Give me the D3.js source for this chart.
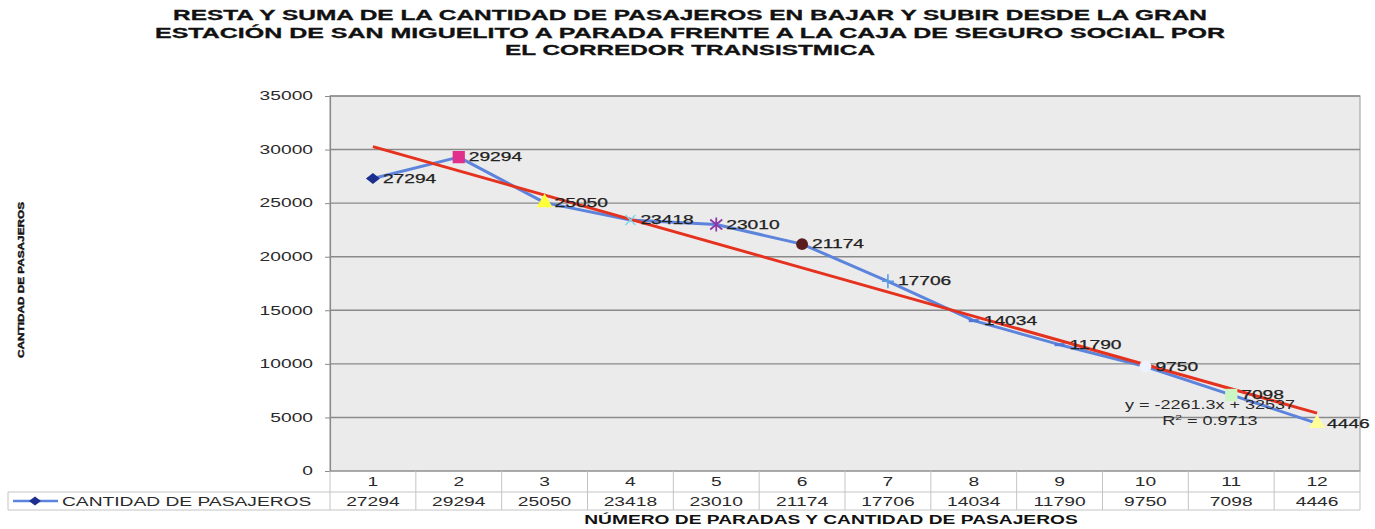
<!DOCTYPE html>
<html>
<head>
<meta charset="utf-8">
<script src="https://cdn.jsdelivr.net/npm/d3@7"></script>
<style>
  html, body { margin: 0; padding: 0; background: #ffffff; }
  svg { display: block; font-family: Arial, "Liberation Sans", sans-serif; }
</style>
</head>
<body>
<svg id="chart" width="1375" height="529"></svg>
<script>
// Parada (stop number) and passengers on board after each stop
const stops = ["1", "2", "3", "4", "5", "6", "7", "8", "9", "10", "11", "12"];
const passengers = [27294, 29294, 25050, 23418, 23010, 21174, 17706, 14034, 11790, 9750, 7098, 4446];
const yTicks = [0, 5000, 10000, 15000, 20000, 25000, 30000, 35000];

// Per-point marker style (shape, fill) as the spreadsheet varies it by point
const markerShapes = ["diamond", "square", "triangle", "x", "star", "circle", "plus", "dash", "dash", "circle", "square", "triangle"];
const markerColors = ["#1c2f8f", "#e0308c", "#ffff3a", "#7fd6ee", "#8a3aa8", "#5a1c1c", "#5a9ee0", "#4f78d8", "#4f78d8", "#eef2ff", "#ccf5c4", "#ffff99"];

const titleLines = [
  "RESTA Y SUMA DE LA CANTIDAD DE PASAJEROS EN BAJAR Y SUBIR DESDE LA GRAN",
  "ESTACIÓN DE SAN MIGUELITO A PARADA FRENTE A LA CAJA DE SEGURO SOCIAL POR",
  "EL CORREDOR TRANSISTMICA"
];
const seriesName = "CANTIDAD DE PASAJEROS";
const xTitle = "NÚMERO DE PARADAS Y CANTIDAD DE PASAJEROS";
const yTitle = "CANTIDAD DE PASAJEROS";

const svg = d3.select("#chart");
const plot = { left: 330, right: 1360, top: 96, bottom: 471 };
const rowH = [21, 18];
const tableLeft = 8;
const STRETCH = 1.6;

// widen glyphs horizontally, the way the exported chart renders its text
function stretch(sel, k) {
  sel.each(function () {
    const w = this.getComputedTextLength();
    d3.select(this).attr("textLength", w * k).attr("lengthAdjust", "spacingAndGlyphs");
  });
}

const x = d3.scaleBand().domain(stops).range([plot.left, plot.right]).padding(0);
const y = d3.scaleLinear().domain([0, 35000]).range([plot.bottom, plot.top]);
const cx = d => x(d) + x.bandwidth() / 2;

// Title
const title = svg.append("g").attr("font-weight", "bold").attr("font-size", 14.5).attr("fill", "#111");
const titleWidths = [1034, 1070, 370];
titleLines.forEach((t, i) => {
  title.append("text").attr("x", 690).attr("y", 20 + i * 17.5)
    .attr("text-anchor", "middle").text(t)
    .attr("stroke", "#111").attr("stroke-width", 0.3)
    .attr("textLength", titleWidths[i]).attr("lengthAdjust", "spacingAndGlyphs");
});

// Plot area
svg.append("rect")
  .attr("x", plot.left).attr("y", plot.top)
  .attr("width", plot.right - plot.left).attr("height", plot.bottom - plot.top)
  .attr("fill", "#ecebeb").attr("stroke", "#a8a8a8").attr("stroke-width", 1.2);

// Gridlines
svg.append("g").selectAll("line").data(yTicks.filter(v => v > 0)).join("line")
  .attr("x1", plot.left).attr("x2", plot.right)
  .attr("y1", d => y(d)).attr("y2", d => y(d))
  .attr("stroke", "#8a8a8a").attr("stroke-width", 1.4);

// Y axis
const yAxis = svg.append("g").attr("transform", `translate(${plot.left},0)`)
  .call(d3.axisLeft(y).tickValues(yTicks).tickSize(5).tickPadding(12).tickFormat(d3.format("d")));
yAxis.select(".domain").attr("stroke", "#8a8a8a").attr("stroke-width", 1.2);
yAxis.selectAll(".tick line").attr("stroke", "#8a8a8a");
yAxis.selectAll("text").attr("font-size", 12).attr("fill", "#2a2a2a")
  .attr("font-family", "Arial, 'Liberation Sans', sans-serif").call(stretch, STRETCH);

// Y axis title (compressed vertical text)
svg.append("text")
  .attr("transform", "translate(24,280) rotate(-90)")
  .attr("text-anchor", "middle").attr("font-size", 9).attr("font-weight", "bold").attr("fill", "#111")
  .attr("stroke", "#111").attr("stroke-width", 0.4)
  .attr("textLength", 156).attr("lengthAdjust", "spacingAndGlyphs")
  .text(yTitle);

// Linear trend by least squares
const xs = stops.map((s, i) => i + 1);
const n = xs.length;
const mx = d3.mean(xs), my = d3.mean(passengers);
const sxy = d3.sum(xs, (v, i) => (v - mx) * (passengers[i] - my));
const sxx = d3.sum(xs, v => (v - mx) * (v - mx));
const slope = sxy / sxx;
const intercept = my - slope * mx;
const ssTot = d3.sum(passengers, v => (v - my) ** 2);
const ssRes = d3.sum(passengers, (v, i) => (v - (intercept + slope * xs[i])) ** 2);
const r2 = 1 - ssRes / ssTot;

// Data line
const line = d3.line().x((d, i) => cx(stops[i])).y(d => y(d));
svg.append("path").datum(passengers)
  .attr("d", line).attr("fill", "none")
  .attr("stroke", "#5d84dc").attr("stroke-width", 3).attr("stroke-linejoin", "round");

// Trend line
const trend = [xs[0], xs[n - 1]].map(v => intercept + slope * v);
svg.append("line")
  .attr("x1", cx(stops[0])).attr("y1", y(trend[0]))
  .attr("x2", cx(stops[n - 1])).attr("y2", y(trend[1]))
  .attr("stroke", "#e5321f").attr("stroke-width", 3);

// Markers
const symbolFor = {
  square: d3.symbol().type(d3.symbolSquare).size(150),
  triangle: d3.symbol().type(d3.symbolTriangle).size(110),
  circle: d3.symbol().type(d3.symbolCircle).size(110)
};
const diamondPath = (w, h) => `M${-w},0L0,${-h}L${w},0L0,${h}Z`;
const markers = svg.append("g");
passengers.forEach((v, i) => {
  const px = cx(stops[i]), py = y(v);
  const shape = markerShapes[i], col = markerColors[i];
  const g = markers.append("g").attr("transform", `translate(${px},${py})`);
  if (shape === "diamond") {
    g.append("path").attr("d", diamondPath(7, 5.5)).attr("fill", col);
  } else if (symbolFor[shape]) {
    g.append("path").attr("d", symbolFor[shape]()).attr("fill", col);
  } else if (shape === "x") {
    g.append("path").attr("d", "M-5,-5L5,5M-5,5L5,-5").attr("stroke", col).attr("stroke-width", 1.5);
  } else if (shape === "star") {
    g.append("path").attr("d", "M-6,-5L6,5M-6,5L6,-5M0,-7L0,7").attr("stroke", col).attr("stroke-width", 1.8);
  } else if (shape === "plus") {
    g.append("path").attr("d", "M-6,0L6,0M0,-7L0,7").attr("stroke", col).attr("stroke-width", 1.6);
  } else if (shape === "dash") {
    g.append("path").attr("d", "M-5,0L5,0").attr("stroke", col).attr("stroke-width", 3);
  }
});

// Data labels
svg.append("g").selectAll("text").data(passengers).join("text")
  .attr("x", (d, i) => cx(stops[i]) + 10).attr("y", d => y(d))
  .attr("dy", "0.35em").attr("font-size", 12).attr("fill", "#222")
  .attr("stroke", "#222").attr("stroke-width", 0.25)
  .text(d => d)
  .call(stretch, STRETCH);

// Trend equation (plain hyphen for the minus sign)
const fmt1 = d3.format(".1f");
const eq = svg.append("g").attr("font-size", 12).attr("fill", "#2a2a2a").attr("text-anchor", "middle");
eq.append("text").attr("x", 1210).attr("y", 409)
  .text(`y = ${slope < 0 ? "-" : ""}${fmt1(Math.abs(slope))}x + ${d3.format(".0f")(intercept)}`).call(stretch, 1.5);
const r2Text = eq.append("text").attr("x", 1210).attr("y", 425);
r2Text.append("tspan").text("R");
r2Text.append("tspan").attr("font-size", 8).attr("dy", -5).text("2");
r2Text.append("tspan").attr("dy", 5).text(` = ${d3.format(".4f")(r2)}`);
r2Text.call(stretch, 1.5);

// Data table below the axis
const table = svg.append("g");
const tTop = plot.bottom, tMid = plot.bottom + rowH[0], tBot = plot.bottom + rowH[0] + rowH[1];
const tableStroke = "#c4c4c4";
// horizontal rules
table.append("line").attr("x1", plot.left).attr("x2", plot.right).attr("y1", tTop).attr("y2", tTop).attr("stroke", "#8a8a8a").attr("stroke-width", 1.2);
table.append("line").attr("x1", tableLeft).attr("x2", plot.right).attr("y1", tMid).attr("y2", tMid).attr("stroke", tableStroke);
table.append("line").attr("x1", tableLeft).attr("x2", plot.right).attr("y1", tBot).attr("y2", tBot).attr("stroke", tableStroke);
// vertical rules
table.append("line").attr("x1", tableLeft).attr("x2", tableLeft).attr("y1", tMid).attr("y2", tBot).attr("stroke", tableStroke);
table.selectAll("line.col").data(stops).join("line").attr("class", "col")
  .attr("x1", d => x(d)).attr("x2", d => x(d)).attr("y1", tTop).attr("y2", tBot).attr("stroke", tableStroke);
table.append("line").attr("x1", plot.right).attr("x2", plot.right).attr("y1", tTop).attr("y2", tBot).attr("stroke", tableStroke);

table.selectAll("text.cat").data(stops).join("text").attr("class", "cat")
  .attr("x", d => cx(d)).attr("y", tTop + 15).attr("text-anchor", "middle")
  .attr("font-size", 12).attr("fill", "#2a2a2a").text(d => d).call(stretch, STRETCH);
table.selectAll("text.val").data(passengers).join("text").attr("class", "val")
  .attr("x", (d, i) => cx(stops[i])).attr("y", tMid + 13.5).attr("text-anchor", "middle")
  .attr("font-size", 12).attr("fill", "#2a2a2a").text(d => d).call(stretch, STRETCH);

// legend key in the table
table.append("line").attr("x1", 13).attr("x2", 58).attr("y1", tMid + 9).attr("y2", tMid + 9)
  .attr("stroke", "#5d84dc").attr("stroke-width", 2.5);
table.append("path").attr("d", diamondPath(6, 4.5))
  .attr("transform", `translate(35,${tMid + 9})`).attr("fill", markerColors[0]);
table.append("text").attr("x", 62).attr("y", tMid + 13.5).attr("font-size", 12).attr("fill", "#2a2a2a")
  .text(seriesName).call(stretch, STRETCH);

// X axis title
svg.append("text").attr("x", 831).attr("y", 524).attr("text-anchor", "middle")
  .attr("font-size", 12).attr("font-weight", "bold").attr("fill", "#111")
  .text(xTitle).call(stretch, 1.6);
</script>
</body>
</html>
